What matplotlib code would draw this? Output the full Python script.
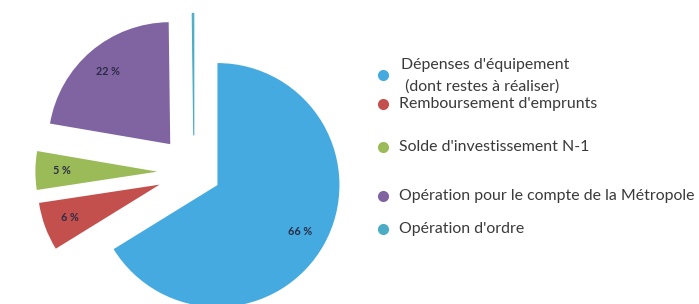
import matplotlib
matplotlib.use("Agg")
import matplotlib.pyplot as plt

# ---- data ----
categories = [
    "Dépenses d'équipement\n (dont restes à réaliser)",
    "Remboursement d'emprunts",
    "Solde d'investissement N-1",
    "Opération pour le compte de la Métropole",
    "Opération d'ordre",
]
values = [66.2, 6.4, 5.1, 22.1, 0.2]
colors = ["#45AAE0", "#C4504E", "#9BBB59", "#8064A2", "#4BACC6"]
explode = [0.22, 0.30, 0.30, 0.30, 0.30]

W, H = 699, 304
fig = plt.figure(figsize=(W / 100, H / 100), dpi=100)
ax = fig.add_axes([0, 0, 1, 1])

R = 122.0
cx, cy = 194.0, 172.0

def autopct(p):
    return f"{p:.0f} %" if p >= 1 else ""

wedges, texts, autotexts = ax.pie(
    values, colors=colors, explode=explode, startangle=90, counterclock=False,
    radius=1.0, autopct=autopct, pctdistance=0.78,
    wedgeprops=dict(linewidth=0), textprops=dict(fontsize=7.8, color="#2B2B45",
                                                 fontweight="bold", family="Lato"))
# make the very thin slice visible down to its tip
wedges[-1].set_edgecolor(colors[-1])
wedges[-1].set_linewidth(0.8)
ax.set_xlim(-cx / R, (W - cx) / R)
ax.set_ylim((cy - H) / R, cy / R)
ax.set_aspect("auto")
ax.axis("off")

# ---- legend ----
lax = fig.add_axes([0, 0, 1, 1])
lax.set_xlim(0, W)
lax.set_ylim(H, 0)
lax.axis("off")
marker_y = [75, 104, 147, 196, 229]
fs = 11.4
for i, (lab, col) in enumerate(zip(categories, colors)):
    lax.plot([383], [marker_y[i]], "o", color=col, markersize=8, markeredgewidth=0)
    if i == 0:
        l1, l2 = lab.split("\n")
        lax.text(401, 65, l1, fontsize=fs, family="Lato", color="#3A3A3A", va="center")
        lax.text(401, 87, l2, fontsize=fs, family="Lato", color="#3A3A3A", va="center")
    else:
        lax.text(399, marker_y[i], lab, fontsize=fs, family="Lato", color="#3A3A3A", va="center")

fig.savefig("out.png", dpi=100, facecolor="white")
